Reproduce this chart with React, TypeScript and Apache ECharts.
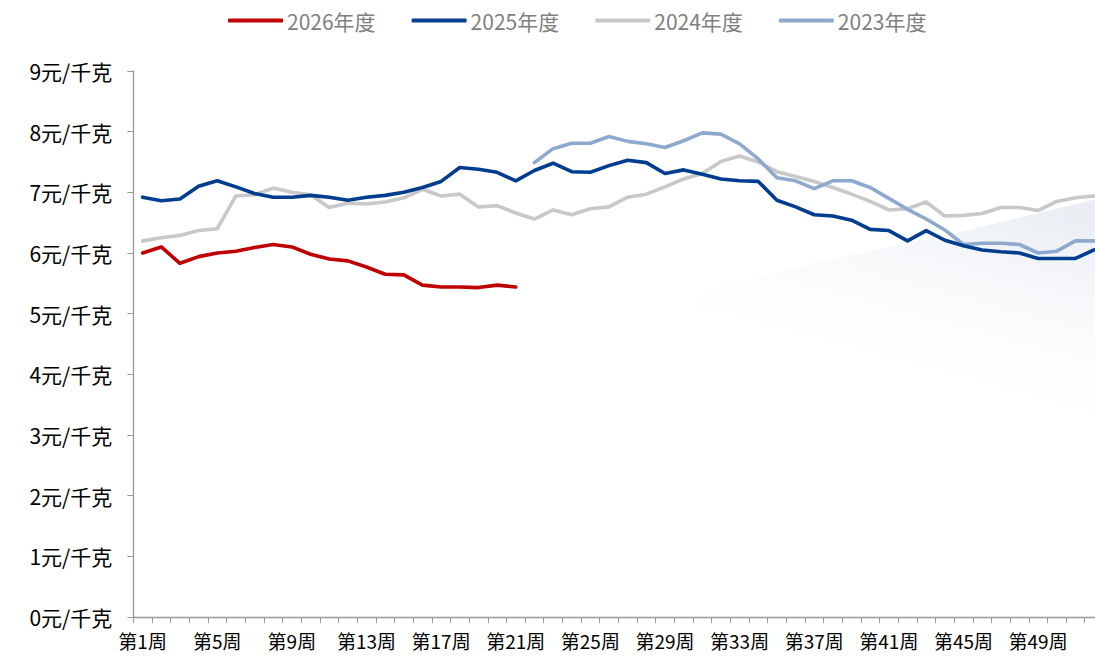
import React, { useEffect, useRef } from "react";
import * as echarts from "echarts";

const weeks = [
  "第1周", "第2周", "第3周", "第4周", "第5周", "第6周", "第7周", "第8周", "第9周", "第10周",
  "第11周", "第12周", "第13周", "第14周", "第15周", "第16周", "第17周", "第18周", "第19周", "第20周",
  "第21周", "第22周", "第23周", "第24周", "第25周", "第26周", "第27周", "第28周", "第29周", "第30周",
  "第31周", "第32周", "第33周", "第34周", "第35周", "第36周", "第37周", "第38周", "第39周", "第40周",
  "第41周", "第42周", "第43周", "第44周", "第45周", "第46周", "第47周", "第48周", "第49周", "第50周",
  "第51周", "第52周",
];

const y2026 = [
  6.0, 6.1, 5.83, 5.94, 6.0, 6.03, 6.09, 6.14, 6.1, 5.98,
  5.9, 5.87, 5.77, 5.65, 5.64, 5.47, 5.44, 5.44, 5.43, 5.47,
  5.44,
];

const y2025 = [
  6.92, 6.86, 6.89, 7.1, 7.19, 7.09, 6.98, 6.92, 6.92, 6.95,
  6.92, 6.87, 6.92, 6.95, 7.0, 7.08, 7.18, 7.41, 7.38, 7.33,
  7.19, 7.36, 7.48, 7.34, 7.33, 7.44, 7.53, 7.49, 7.31, 7.37,
  7.3, 7.22, 7.19, 7.18, 6.87, 6.76, 6.63, 6.61, 6.54, 6.39,
  6.37, 6.2, 6.37, 6.21, 6.12, 6.05, 6.02, 6.0, 5.91, 5.91,
  5.91, 6.05,
];

const y2024 = [
  6.2, 6.25, 6.29, 6.37, 6.4, 6.94, 6.96, 7.07, 7.0, 6.96,
  6.75, 6.82, 6.81, 6.84, 6.91, 7.05, 6.94, 6.97, 6.76, 6.78,
  6.66, 6.56, 6.71, 6.63, 6.73, 6.76, 6.92, 6.97, 7.09, 7.22,
  7.31, 7.51, 7.6, 7.5, 7.34, 7.26, 7.18, 7.08, 6.97, 6.85,
  6.71, 6.73, 6.84, 6.61, 6.62, 6.65, 6.75, 6.75, 6.7, 6.85,
  6.91, 6.94,
];

const y2023 = [
  null, null, null, null, null, null, null, null, null, null,
  null, null, null, null, null, null, null, null, null, null,
  null, 7.49, 7.72, 7.81, 7.81, 7.92, 7.84, 7.8, 7.74, 7.85,
  7.98, 7.96, 7.8, 7.55, 7.24, 7.19, 7.06, 7.19, 7.19, 7.08,
  6.9, 6.72, 6.56, 6.38, 6.14, 6.16, 6.16, 6.14, 6.0, 6.03,
  6.2, 6.2,
];

const seriesNames = ["2026年度", "2025年度", "2024年度", "2023年度"];
const yTicks = [0, 1, 2, 3, 4, 5, 6, 7, 8, 9];

const FONT = "'Noto Sans CJK SC', 'Noto Sans', sans-serif";

export default function App() {
  const ref = useRef<HTMLDivElement>(null);

  useEffect(() => {
    if (!ref.current) return;
    const chart = echarts.init(ref.current, null, { renderer: "svg" });
    const mk = (name: string, data: (number | null)[], color: string, z: number) => ({
      name,
      type: "line",
      data,
      symbol: "none",
      z,
      lineStyle: { color, width: 3.6, cap: "round", join: "round" },
      itemStyle: { color },
    });
    chart.setOption({
      animation: false,
      backgroundColor: "#ffffff",
      graphic: [
        {
          type: "polygon",
          z: 0,
          silent: true,
          shape: {
            points: [
              [700, 292],
              [820, 262],
              [960, 232],
              [1110, 196],
              [1110, 470],
              [700, 470],
            ],
          },
          style: {
            fill: new echarts.graphic.LinearGradient(0.7, 0, 0.3, 1, [
              { offset: 0, color: "rgba(214,222,233,0.5)" },
              { offset: 0.3, color: "rgba(230,235,242,0.3)" },
              { offset: 0.7, color: "rgba(255,255,255,0)" },
            ]),
          },
        },
      ],
      legend: {
        data: seriesNames,
        left: 228,
        top: 10,
        padding: 0,
        icon: "roundRect",
        itemWidth: 55,
        itemHeight: 4,
        itemGap: 36,
        textStyle: { color: "#808080", fontSize: 21, fontFamily: FONT, padding: [0, 0, 0, -1] },
      },
      grid: { left: 133.3, right: 6.6, top: 71, bottom: 39, containLabel: false },
      xAxis: {
        type: "category",
        data: weeks,
        boundaryGap: true,
        axisLine: { lineStyle: { color: "#999999", width: 1.3 } },
        axisTick: { show: true, length: 6, inside: false, interval: 0, lineStyle: { color: "#999999" } },
        axisLabel: {
          interval: 3,
          color: "#000000",
          fontSize: 19,
          fontFamily: FONT,
          margin: 14,
        },
        splitLine: { show: false },
      },
      yAxis: {
        type: "value",
        min: yTicks[0],
        max: yTicks[yTicks.length - 1],
        interval: 1,
        axisLine: { show: true, lineStyle: { color: "#999999", width: 1.3 } },
        axisTick: { show: true, length: 6, inside: false, lineStyle: { color: "#999999" } },
        axisLabel: {
          color: "#000000",
          fontSize: 21,
          fontFamily: FONT,
          margin: 21,
          formatter: (v: number) => `${v}元/千克`,
        },
        splitLine: { show: false },
      },
      series: [
        mk(seriesNames[2], y2024, "#C8C8C8", 2),
        mk(seriesNames[3], y2023, "#8EA9CE", 3),
        mk(seriesNames[1], y2025, "#003D8F", 4),
        mk(seriesNames[0], y2026, "#C00000", 5),
      ],
    });
    return () => chart.dispose();
  }, []);

  return (
    <div style={{ position: "fixed", left: 0, top: 0, width: 1095, height: 656, overflow: "hidden", background: "#fff" }}>
      <div ref={ref} style={{ width: 1110, height: 656 }} />
    </div>
  );
}
